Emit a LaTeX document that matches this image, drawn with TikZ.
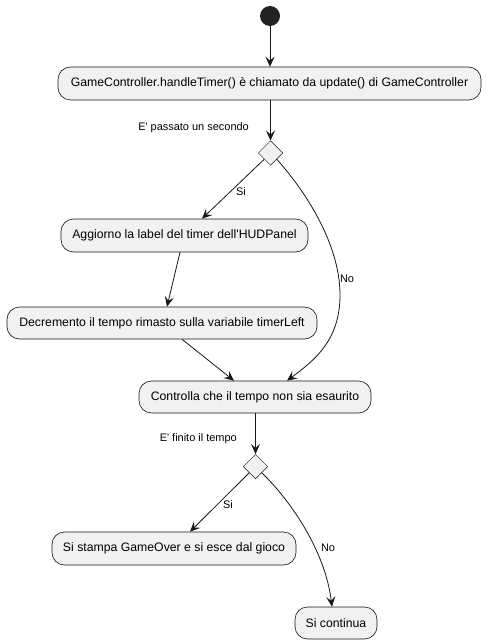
\documentclass[tikz,border=0pt]{standalone}
\usepackage{fontspec}
\setmainfont{Liberation Sans}
\usetikzlibrary{shapes.geometric,arrows.meta}
\definecolor{boxfill}{HTML}{F1F1F1}
\definecolor{lineclr}{HTML}{181818}
\definecolor{startclr}{HTML}{222222}
\tikzset{
  actbox/.style={draw=lineclr, fill=boxfill, line width=0.6bp, rounded corners=12.5bp,
    inner sep=0pt, align=center, font=\fontsize{12.3}{14}\selectfont},
  decis/.style={diamond, draw=lineclr, fill=boxfill, line width=0.5bp, inner sep=0pt,
    minimum width=24.5bp, minimum height=24.5bp, aspect=1},
  startdot/.style={circle, fill=startclr, inner sep=0pt, minimum size=20bp},
  flow/.style={draw=lineclr, line width=0.8bp, -{Stealth[length=10bp, width=9bp, inset=4bp]}},
  lbl/.style={inner sep=0pt, font=\fontsize{11}{13}\selectfont},
}
\begin{document}
\begin{tikzpicture}[x=1bp, y=-1bp]
\useasboundingbox[fill=white] (0,0) rectangle (486,644);

\node[startdot] (start) at (270,16) {};
\node[actbox, minimum width=423bp, minimum height=33bp] (b1) at (269.5,83.5)
  {GameController.handleTimer() è chiamato da update() di GameController};
\node[decis] (d1) at (270.5,153) {};
\node[lbl, anchor=east] (q1) at (249,128) {E\textquotesingle{} passato un secondo};
\node[actbox, minimum width=247bp, minimum height=33bp] (b2) at (184.5,235.5)
  {Aggiorno la label del timer dell\textquotesingle{}HUDPanel};
\node[actbox, minimum width=310bp, minimum height=32bp] (b3) at (162,323)
  {Decremento il tempo rimasto sulla variabile timerLeft};
\node[actbox, minimum width=232bp, minimum height=32bp] (b4) at (255,397)
  {Controlla che il tempo non sia esaurito};
\node[decis] (d2) at (255.5,466.5) {};
\node[lbl, anchor=east] (q2) at (237,439) {E\textquotesingle{} finito il tempo};
\node[actbox, minimum width=244bp, minimum height=33bp] (b5) at (174,548.5)
  {Si stampa GameOver e si esce dal gioco};
\node[actbox, minimum width=82bp, minimum height=32bp] (b6) at (336,623)
  {Si continua};

\node[lbl] (si1) at (241,192) {Si};
\node[lbl] (no1) at (347,279) {No};
\node[lbl] (si2) at (228,505) {Si};
\node[lbl] (no2) at (328,548) {No};

\draw[flow] (start.south) -- (start.south |- b1.north);
\draw[flow] (b1.south -| d1.north) -- (d1.north);
\draw[flow] (d1.south west) -- ([xshift=17.5bp]b2.north);
\draw[flow] ([xshift=-4.5bp]b2.south) -- ([xshift=5bp]b3.north);
\draw[flow] ([xshift=20bp]b3.south) -- ([xshift=-21bp]b4.north);
\draw[flow] (d1.south east) .. controls (300,185) and (340,240) .. (340,295)
  .. controls (340,340) and (315,360) .. ([xshift=32bp]b4.north);
\draw[flow] (b4.south -| d2.north) -- (d2.north);
\draw[flow] (d2.south west) -- ([xshift=16bp]b5.north);
\draw[flow] (d2.south east) .. controls (290,500) and (325,550) .. ([xshift=-4bp]b6.north);
\end{tikzpicture}
\end{document}
